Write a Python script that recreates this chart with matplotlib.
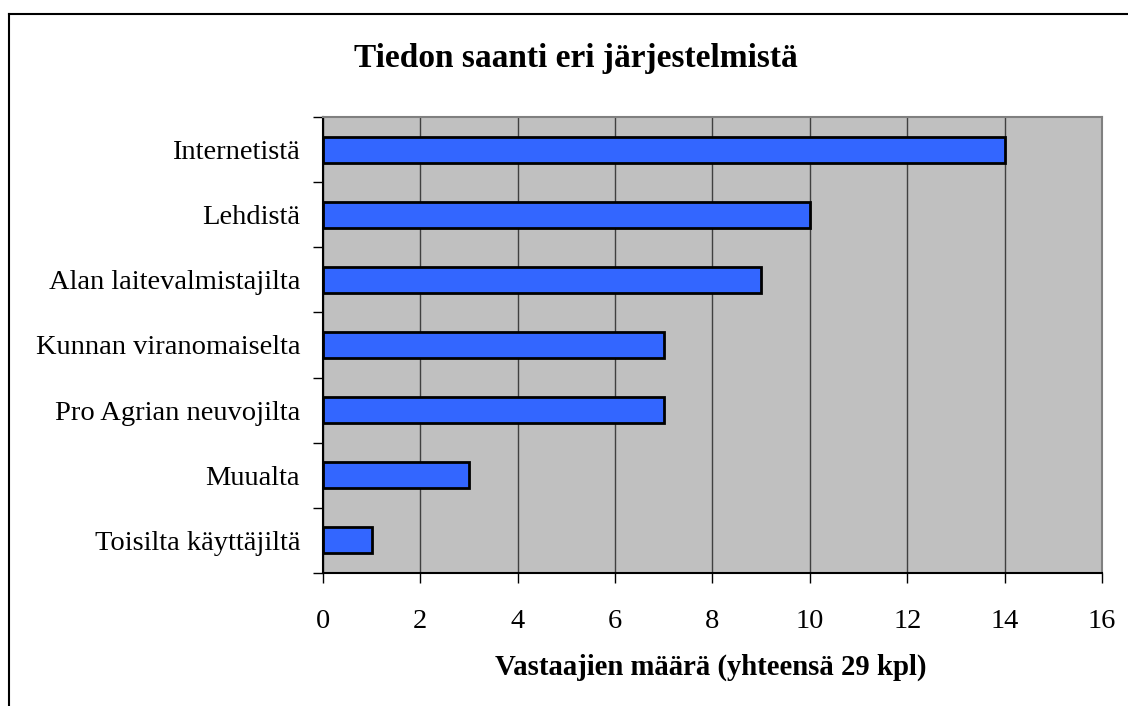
import matplotlib
matplotlib.use("Agg")
import matplotlib.pyplot as plt
from matplotlib.lines import Line2D
import numpy as np

categories = ["Toisilta käyttäjiltä", "Muualta", "Pro Agrian neuvojilta",
              "Kunnan viranomaiselta", "Alan laitevalmistajilta", "Lehdistä", "Internetistä"]
values = [1, 3, 7, 7, 9, 10, 14]
xticks = [0, 2, 4, 6, 8, 10, 12, 14, 16]
title = "Tiedon saanti eri järjestelmistä"
xlabel = "Vastaajien määrä (yhteensä 29 kpl)"

plt.rcParams['font.family'] = ['Liberation Serif', 'DejaVu Serif']

fig = plt.figure(figsize=(11.28, 7.06), dpi=100)
W, H = 1128, 706
ax = fig.add_axes([323 / W, 1 - 573 / H, (1102 - 323) / W, (573 - 117) / H])
ax.set_facecolor('#C0C0C0')

pos = np.arange(len(categories))
ax.barh(pos, values, height=0.4, color='#3366FF', edgecolor='black', linewidth=2, zorder=3)

ax.set_xlim(0, 16)
ax.set_ylim(-0.5, len(categories) - 0.5)
ax.set_xticks(xticks)
ax.set_xticklabels([str(t) for t in xticks], fontsize=20.5)
ax.xaxis.grid(True, color='#404040', linewidth=1)
ax.set_axisbelow(True)

ax.set_yticks(np.arange(-0.5, len(categories), 1.0))
ax.set_yticklabels([])
ax.set_yticks(pos, minor=True)
ax.set_yticklabels(categories, minor=True, fontsize=20.5)
ax.tick_params(axis='y', which='minor', length=0, pad=16.5)
ax.tick_params(axis='y', which='major', length=7, width=1, direction='out')
ax.tick_params(axis='x', which='major', length=7, width=1, direction='out', pad=19)

for s in ['top', 'right']:
    ax.spines[s].set_color('#808080')
    ax.spines[s].set_linewidth(1.5)
for s in ['left', 'bottom']:
    ax.spines[s].set_color('black')
    ax.spines[s].set_linewidth(1.5)

fig.text(576 / W, 1 - 67 / H, title, fontsize=24, fontweight='bold', ha='center', va='baseline')
fig.text(711 / W, 1 - 675 / H, xlabel, fontsize=20.7, fontweight='bold', ha='center', va='baseline')

fig.add_artist(Line2D([8.5 / W, 8.5 / W], [0, 1 - 13.5 / H], color='black', linewidth=1.5, transform=fig.transFigure))
fig.add_artist(Line2D([8.5 / W, 1], [1 - 13.5 / H, 1 - 13.5 / H], color='black', linewidth=1.5, transform=fig.transFigure))

fig.savefig("out.png", dpi=100)
